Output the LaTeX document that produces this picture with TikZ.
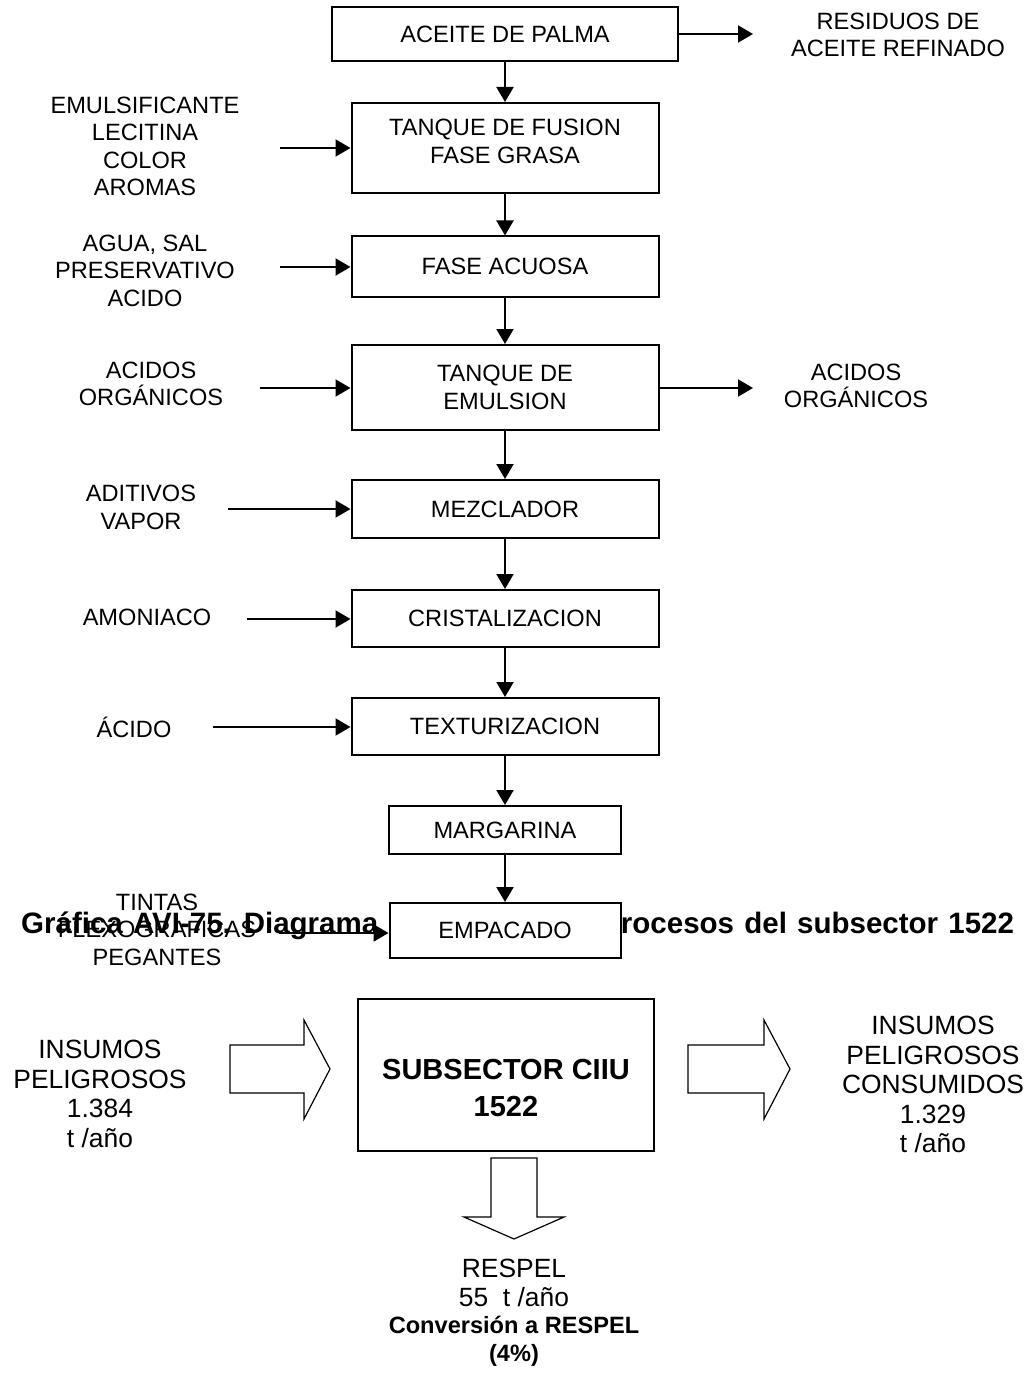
\documentclass[tikz,border=0pt]{standalone}
\usepackage{fontspec}
\setmainfont{Liberation Sans}
\usetikzlibrary{arrows.meta}

\begin{document}
\begin{tikzpicture}[x=1pt, y=-1pt,
  process/.style={rectangle, draw=black, line width=2pt, fill=white, align=center, inner sep=0pt, font=\fontsize{23.6}{27.5}\selectfont},
  flowtext/.style={align=center, inner sep=0pt, font=\fontsize{23.6}{27.5}\selectfont},
  bigtext/.style={align=center, inner sep=0pt, font=\fontsize{26.4}{29.5}\selectfont},
  arrow/.style={line width=2pt, -{Triangle[length=15pt, width=17pt]}},
  blockarrow/.style={draw=black, line width=1.2pt, fill=white, line join=miter}
]

\useasboundingbox (0,0) rectangle (1030,1388);

\node (caption) [anchor=west, inner sep=0pt, font=\fontsize{29.5}{34}\selectfont\bfseries] at (21,926) {\spaceskip=10.2pt\relax Gráfica AVI-75. Diagrama de flujo de los procesos del subsector 1522};

\node (palma) [process, minimum width=346pt, minimum height=54pt] at (505,34) {ACEITE DE PALMA};
\node (fusion) [process, minimum width=307pt, minimum height=90pt, text depth=13pt] at (505,148) {TANQUE DE FUSION\\FASE GRASA};
\node (acuosa) [process, minimum width=307pt, minimum height=60pt] at (505,266.5) {FASE ACUOSA};
\node (emulsion) [process, minimum width=307pt, minimum height=85pt] at (505,387.5) {TANQUE DE\\EMULSION};
\node (mezclador) [process, minimum width=307pt, minimum height=58pt] at (505,509) {MEZCLADOR};
\node (cristal) [process, minimum width=307pt, minimum height=57pt] at (505,618.5) {CRISTALIZACION};
\node (textur) [process, minimum width=307pt, minimum height=57pt] at (505,726.5) {TEXTURIZACION};
\node (margarina) [process, minimum width=232pt, minimum height=48pt] at (505,830) {MARGARINA};
\node (empacado) [process, minimum width=231pt, minimum height=55pt] at (505,930.5) {EMPACADO};

\node (residuos) [flowtext] at (898,35) {RESIDUOS DE\\ACEITE REFINADO};
\node (aditivosFusion) [flowtext] at (145,146.5) {EMULSIFICANTE\\LECITINA\\COLOR\\AROMAS};
\node (aditivosAcuosa) [flowtext] at (145,270.5) {AGUA, SAL\\PRESERVATIVO\\ACIDO};
\node (acidosIn) [flowtext] at (151,384) {ACIDOS\\ORGÁNICOS};
\node (acidosOut) [flowtext] at (856,386) {ACIDOS\\ORGÁNICOS};
\node (aditivosMezcla) [flowtext] at (141,507.5) {ADITIVOS\\VAPOR};
\node (amoniaco) [flowtext] at (147,617) {AMONIACO};
\node (acido) [flowtext] at (134,727) {ÁCIDO};
\node (tintas) [flowtext] at (157,929.5) {TINTAS\\FLEXOGRAFICAS\\PEGANTES};

\coordinate (residuosIn) at (753,34);
\coordinate (fusionIn) at (280,148);
\coordinate (acuosaIn) at (280,267);
\coordinate (emulsionIn) at (260,388);
\coordinate (emulsionOut) at (753,388);
\coordinate (mezcladorIn) at (228,509);
\coordinate (cristalIn) at (247,619);
\coordinate (texturIn) at (213,727);
\coordinate (empacadoIn) at (279,933);

\draw [arrow] (palma.east) -- (residuosIn);
\draw [arrow] (palma) -- (fusion);
\draw [arrow] (fusion) -- (acuosa);
\draw [arrow] (acuosa) -- (emulsion);
\draw [arrow] (emulsion) -- (mezclador);
\draw [arrow] (mezclador) -- (cristal);
\draw [arrow] (cristal) -- (textur);
\draw [arrow] (textur) -- (margarina);
\draw [arrow] (margarina) -- (empacado);

\draw [arrow] (fusionIn) -- (fusionIn -| fusion.west);
\draw [arrow] (acuosaIn) -- (acuosaIn -| acuosa.west);
\draw [arrow] (emulsionIn) -- (emulsionIn -| emulsion.west);
\draw [arrow] (emulsionOut -| emulsion.east) -- (emulsionOut);
\draw [arrow] (mezcladorIn) -- (mezcladorIn -| mezclador.west);
\draw [arrow] (cristalIn) -- (cristalIn -| cristal.west);
\draw [arrow] (texturIn) -- (texturIn -| textur.west);
\draw [arrow] (empacadoIn) -- (empacadoIn -| empacado.west);

\node (insumosIn) [bigtext] at (100,1094) {INSUMOS\\PELIGROSOS\\1.384\\t /año};
\node (subsector) [process, minimum width=296pt, minimum height=152pt, text height=83.8pt, font=\fontsize{29}{37}\selectfont\bfseries] at (506,1075) {SUBSECTOR CIIU\\1522};
\node (insumosOut) [bigtext] at (933,1084.5) {INSUMOS\\PELIGROSOS\\CONSUMIDOS\\1.329\\t /año};
\node (respel) [bigtext] at (514,1283) {RESPEL\\55\ \ t /año};
\node (conversion) [align=center, inner sep=0pt, font=\fontsize{23.6}{28}\selectfont\bfseries] at (514,1341) {Conversión a RESPEL\\(4\%)};

\draw [blockarrow] (230,1045) -- (304,1045) -- (304,1020) -- (330,1069) -- (304,1119) -- (304,1093) -- (230,1093) -- cycle;
\draw [blockarrow] (688,1045) -- (764,1045) -- (764,1020) -- (790,1069) -- (764,1119) -- (764,1093) -- (688,1093) -- cycle;
\draw [blockarrow] (491,1158) -- (537,1158) -- (537,1217) -- (564,1217) -- (514,1239) -- (464,1217) -- (491,1217) -- cycle;

\end{tikzpicture}
\end{document}
